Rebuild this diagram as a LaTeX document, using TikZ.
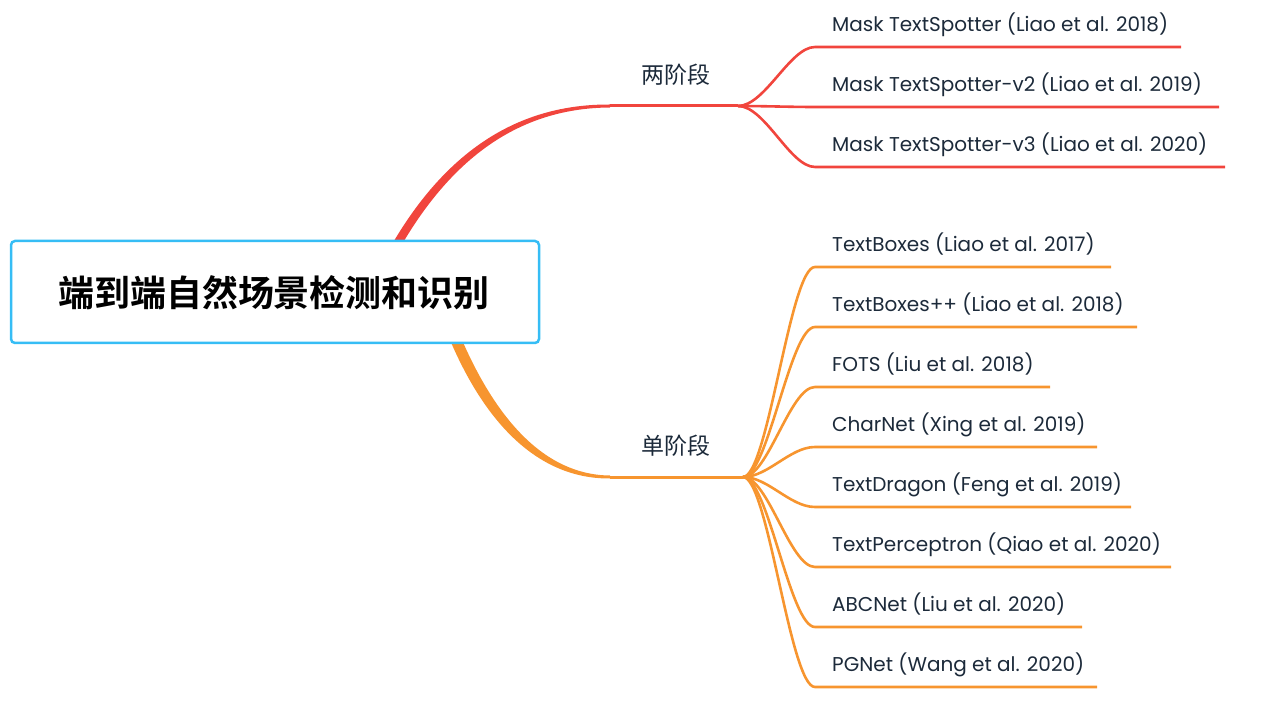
\documentclass[tikz,border=0pt]{standalone}
\usepackage{fontspec}
\setmainfont{Poppins}
\newfontfamily\cjk{Noto Sans CJK SC}
\newfontfamily\cjkbold{Noto Sans CJK SC Bold}
\definecolor{mred}{HTML}{F1453D}
\definecolor{morange}{HTML}{F7952F}
\definecolor{mblue}{HTML}{36BDF5}
\definecolor{mtext}{HTML}{1C2A3A}
\tikzset{
  rootbox/.style={draw=mblue, line width=2.5pt, rounded corners=4pt, fill=white, minimum width=528pt, minimum height=102pt, inner sep=0pt},
  midlabel/.style={text=mtext, font=\cjk\fontsize{23}{26}\selectfont, inner sep=0pt},
  leaf/.style={text=mtext, font=\fontsize{20}{24}\selectfont, anchor=west, inner sep=0pt},
  redline/.style={draw=mred, line width=2.6pt},
  orgline/.style={draw=morange, line width=2.6pt},
}
\begin{document}
\begin{tikzpicture}[x=1pt,y=-1pt]
\useasboundingbox (0,0) rectangle (1275,703);
% main tapered branches
\fill[mred] (391,246) .. controls (446,151) and (518,104) .. (610,104.5) -- (610,107.5) .. controls (522,108) and (454,155) .. (401,246) -- cycle;
\fill[morange] (450,340) .. controls (484,420) and (536,479) .. (610,478.5) -- (610,475.5) .. controls (544,475) and (496,418) .. (462,340) -- cycle;
\node[rootbox] (root) at (275,292) {};
\node[text=black, font=\cjkbold\fontsize{36}{40}\selectfont, inner sep=0pt] (roottext) at (274,293) {端到端自然场景检测和识别};
% level 1
\coordinate (r0) at (610,106);
\coordinate (rb) at (738,106);
\coordinate (o0) at (610,477);
\coordinate (ob) at (743,477);
\draw[redline, line width=3pt] (r0) -- (rb);
\draw[orgline, line width=3pt] (o0) -- (ob);
\node[midlabel] (two) at (676,75) {两阶段};
\node[midlabel] (one) at (676,446) {单阶段};
% two-stage children
\foreach \i/\y/\e/\t in {1/47/1181/{Mask TextSpotter (Liao et al. 2018)},
                         2/107/1219/{Mask TextSpotter-v2 (Liao et al. 2019)},
                         3/167/1225/{Mask TextSpotter-v3 (Liao et al. 2020)}}{
  \coordinate (rs\i) at (815,\y);
  \coordinate (re\i) at (\e,\y);
  \node[leaf] (rt\i) at (832,\y-22.5) {\t};
  \draw[redline] (rb) .. controls (765,106) and (790,\y) .. (rs\i) -- (re\i);
}
% one-stage children
\foreach \i/\y/\e/\t in {1/267/1111/{TextBoxes (Liao et al. 2017)},
                         2/327/1137/{TextBoxes++ (Liao et al. 2018)},
                         3/387/1050/{FOTS (Liu et al. 2018)},
                         4/447/1097/{CharNet (Xing et al. 2019)},
                         5/507/1131/{TextDragon (Feng et al. 2019)},
                         6/567/1171/{TextPerceptron (Qiao et al. 2020)},
                         7/627/1082/{ABCNet (Liu et al. 2020)},
                         8/687/1097/{PGNet (Wang et al. 2020)}}{
  \coordinate (os\i) at (815,\y);
  \coordinate (oe\i) at (\e,\y);
  \node[leaf] (ot\i) at (832,\y-22.5) {\t};
  \draw[orgline] (ob) .. controls (768,477) and (790,\y) .. (os\i) -- (oe\i);
}
\end{tikzpicture}
\end{document}
